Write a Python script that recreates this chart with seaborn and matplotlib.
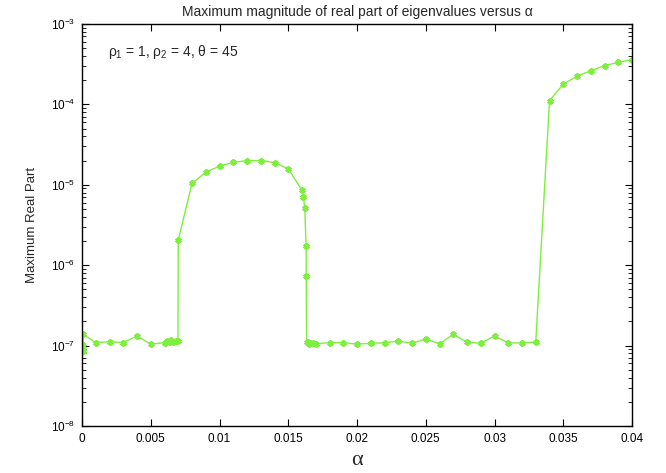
import matplotlib
matplotlib.use("Agg")
import matplotlib.pyplot as plt
import matplotlib.ticker as mticker
import numpy as np
import pandas as pd
import seaborn as sns

# ---- data ----
alpha = [0.0, 0.00002, 0.00004, 0.00006, 0.0001,
         0.001, 0.002, 0.003, 0.004, 0.005, 0.006,
         0.0062, 0.0064, 0.0065, 0.0066, 0.0068, 0.0069, 0.00698,
         0.0070, 0.008, 0.009, 0.010, 0.011, 0.012, 0.013, 0.014, 0.015,
         0.016, 0.0161, 0.0162, 0.0163, 0.01631,
         0.01633, 0.0164, 0.01645, 0.0165, 0.0166, 0.0168, 0.0170,
         0.018, 0.019, 0.020, 0.021, 0.022, 0.023, 0.024, 0.025, 0.026,
         0.027, 0.028, 0.029, 0.030, 0.031, 0.032, 0.033,
         0.034, 0.035, 0.036, 0.037, 0.038, 0.039, 0.040]
max_real = [0.95e-7, 1.05e-7, 0.85e-7, 0.98e-7, 1.38e-7,
            1.09e-7, 1.12e-7, 1.09e-7, 1.32e-7, 1.04e-7, 1.09e-7,
            1.15e-7, 1.12e-7, 1.17e-7, 1.10e-7, 1.15e-7, 1.13e-7, 1.14e-7,
            2.06e-6, 1.04e-5, 1.43e-5, 1.71e-5, 1.90e-5, 2.0e-5, 2.0e-5, 1.89e-5, 1.58e-5,
            8.55e-6, 7.05e-6, 5.19e-6, 1.72e-6, 7.3e-7,
            1.12e-7, 1.08e-7, 1.10e-7, 1.06e-7, 1.09e-7, 1.07e-7, 1.05e-7,
            1.09e-7, 1.09e-7, 1.04e-7, 1.07e-7, 1.08e-7, 1.14e-7, 1.07e-7, 1.21e-7, 1.05e-7,
            1.38e-7, 1.10e-7, 1.07e-7, 1.32e-7, 1.08e-7, 1.08e-7, 1.11e-7,
            1.11e-4, 1.78e-4, 2.25e-4, 2.62e-4, 3.03e-4, 3.34e-4, 3.6e-4]
x_ticks = [0, 0.005, 0.01, 0.015, 0.02, 0.025, 0.03, 0.035, 0.04]
x_tick_labels = ["0", "0.005", "0.01", "0.015", "0.02", "0.025", "0.03", "0.035", "0.04"]
title_text = "Maximum magnitude of real part of eigenvalues versus α"
annot_text = r"$\rho_1$ = 1, $\rho_2$ = 4, $\theta$ = 45"

df = pd.DataFrame({"alpha": alpha, "max_real": max_real})

sns.set_style("ticks")
plt.rcParams["font.family"] = ["Liberation Sans", "DejaVu Sans"]
plt.rcParams["mathtext.fontset"] = "custom"
plt.rcParams["mathtext.rm"] = "Liberation Sans"
plt.rcParams["mathtext.it"] = "Liberation Sans"
plt.rcParams["mathtext.bf"] = "Liberation Sans:bold"

fig = plt.figure(figsize=(6.66, 4.73), dpi=100)
ax = fig.add_axes([82 / 666, 1 - 426 / 473, 550 / 666, 402 / 473])

sns.lineplot(data=df, x="alpha", y="max_real", ax=ax, estimator=None, sort=False,
             color="#7cf03c", linewidth=1.0, marker=(6, 2, 0), markersize=4.5,
             markeredgewidth=1.5, markeredgecolor="#7cf03c", markerfacecolor="#7cf03c")

ax.set_yscale("log")
ax.set_xlim(0, 0.04)
ax.set_ylim(1e-8, 1e-3)
ax.set_xticks(x_ticks)
ax.set_xticklabels(x_tick_labels)
ax.yaxis.set_major_locator(mticker.LogLocator(base=10, numticks=10))
ax.yaxis.set_minor_locator(mticker.LogLocator(base=10, subs=np.arange(2, 10), numticks=20))
ax.yaxis.set_major_formatter(mticker.LogFormatterMathtext())
ax.yaxis.set_minor_formatter(mticker.NullFormatter())

ax.tick_params(which="both", direction="in", top=True, right=True, labelsize=8.5, colors="black")
ax.tick_params(which="major", length=5, width=0.8, pad=5)
ax.tick_params(which="minor", length=3, width=0.6)
for s in ax.spines.values():
    s.set_linewidth(1.0)
    s.set_color("black")

ax.set_xlabel("α", fontsize=16, family=["Liberation Serif", "DejaVu Serif"], labelpad=4)
ax.set_ylabel("Maximum Real Part", fontsize=9.5, labelpad=9)
ax.set_title(title_text, fontsize=10, pad=6)
ax.text(0.047, 0.93, annot_text, transform=ax.transAxes, fontsize=10, va="center", ha="left")

fig.savefig("out.png", dpi=100)
